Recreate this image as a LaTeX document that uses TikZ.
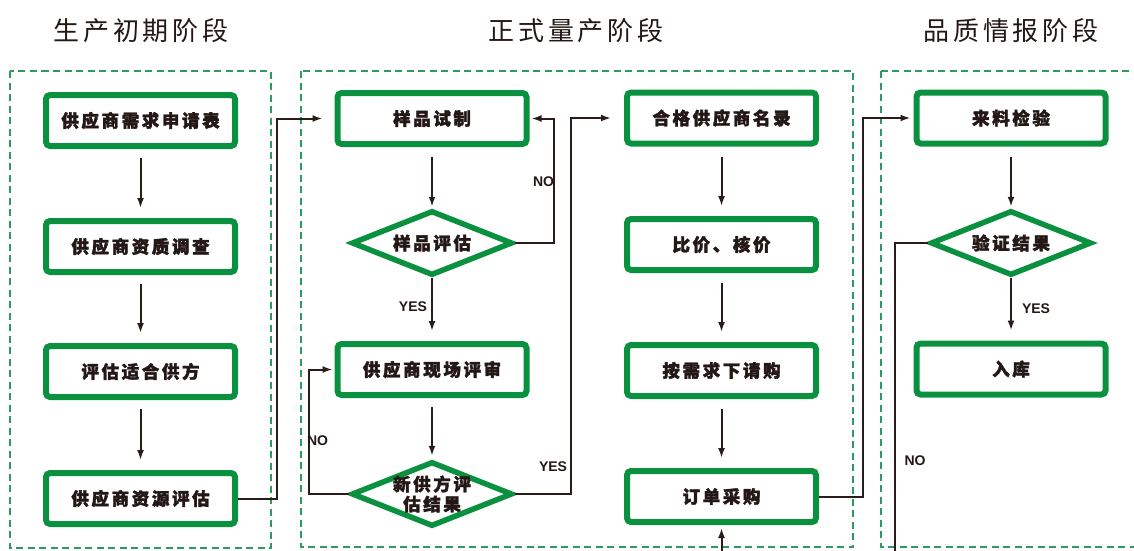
\documentclass[tikz,border=0pt]{standalone}
\usepackage{fontspec}
\newfontfamily\cjkwide{Noto Sans CJK SC}[LetterSpace=15, BoldFeatures={FakeBold=2}]
\newfontfamily\lat{Liberation Sans}
\usetikzlibrary{shapes.geometric,arrows.meta}
\definecolor{boxgreen}{HTML}{0A9140}
\definecolor{framegreen}{HTML}{2E9A62}
\definecolor{ink}{HTML}{231815}
\definecolor{wire}{HTML}{2A1C19}
\begin{document}
\begin{tikzpicture}[x=1pt,y=-1pt,
    stepbox/.style={draw=boxgreen, line width=6pt, rounded corners=4pt, fill=white,
      minimum width=189pt, minimum height=51pt, inner sep=0pt,
      font=\cjkwide\bfseries\fontsize{17.5}{20}\selectfont, text=ink},
    decide/.style={diamond, aspect=2.5, draw=boxgreen, line width=5.5pt, fill=white,
      minimum width=161pt, minimum height=65pt, inner sep=0pt},
    dtext/.style={align=center, inner sep=0pt,
      font=\cjkwide\bfseries\fontsize{17.5}{20}\selectfont, text=ink},
    stage/.style={font=\cjkwide\fontsize{26}{30}\selectfont, text=ink},
    frame/.style={draw=framegreen, line width=1.6pt, dash pattern=on 7pt off 4.5pt},
    conn/.style={draw=wire, line width=2pt, ->, >={Latex[length=10pt,width=7pt]}},
    tag/.style={font=\lat\bfseries\fontsize{14}{16}\selectfont, text=ink}]
  \clip (0,0) rectangle (1134,550);
  \def\colL{140.5}
  \def\colA{432}
  \def\colB{721.5}
  \def\colR{1011}

  % stages
  \node[stage] (s1) at (141,31) {生产初期阶段};
  \node[stage] (s2) at (576,31) {正式量产阶段};
  \node[stage] (s3) at (1011,31) {品质情报阶段};
  \draw[frame] (10,71) rectangle (271,548);
  \draw[frame] (301,71) rectangle (853,547);
  \draw[frame] (881,71) rectangle (1150,547);

  % first stage
  \foreach \lbl/\y [count=\i] in {供应商需求申请表/120.5, 供应商资质调查/246.5,
      评估适合供方/371.5, 供应商资源评估/498.5}
    \node[stepbox] (l\i) at (\colL,\y) {\lbl};
  \foreach \i in {1,2,3} {
    \pgfmathtruncatemacro\j{\i+1}
    \draw[conn, shorten <=9pt, shorten >=10pt] (l\i.south) -- (l\j.north);
  }

  % second stage, samples
  \node[stepbox] (m1) at (\colA,118.5) {样品试制};
  \node[decide, label={[dtext]center:样品评估}] (d1) at (\colA,243) {};
  \node[stepbox] (m2) at (\colA,369.5) {供应商现场评审};
  \node[decide, label={[dtext]center:{新供方评\\估结果}}] (d2) at (\colA,494) {};
  \draw[conn, shorten <=10pt, shorten >=1pt] (m1.south) -- (d1.north);
  \draw[conn, shorten >=10pt] (d1.south) -- (m2.north);
  \draw[conn, shorten <=9pt, shorten >=3pt] (m2.south) -- (d2.north);
  \draw[conn, shorten >=12pt] (l4.east) -- ++(39,0) |- (m1.west);
  \draw[conn, shorten >=2pt] (d1.east) -- ++(39,0) |- (m1.east);
  \draw[conn, shorten >=2pt] (d2.west) -- ++(-40,0) |- (m2.west);
  \node[tag] (no1) at (543.5,182) {NO};
  \node[tag] (yes1) at (413,307) {YES};
  \node[tag] (no2) at (317.5,441) {NO};
  \node[tag] (yes2) at (553,467) {YES};

  % second stage, purchase
  \foreach \lbl/\y [count=\i] in {合格供应商名录/118, 比价、核价/244.5,
      按需求下请购/370.5, 订单采购/496.5}
    \node[stepbox] (q\i) at (\colB,\y) {\lbl};
  \foreach \i in {1,2,3} {
    \pgfmathtruncatemacro\j{\i+1}
    \draw[conn, shorten <=10pt, shorten >=10pt] (q\i.south) -- (q\j.north);
  }
  \draw[conn, shorten >=13pt] (d2.east) -- ++(56,0) |- (q1.west);

  % third stage
  \node[stepbox] (r1) at (\colR,118) {来料检验};
  \node[decide, label={[dtext]center:验证结果}] (r2) at (\colR,243) {};
  \node[stepbox] (r3) at (\colR,369) {入库};
  \draw[conn, shorten <=10pt, shorten >=1pt] (r1.south) -- (r2.north);
  \draw[conn, shorten >=10pt] (r2.south) -- (r3.north);
  \draw[conn, shorten >=3pt] (q4.east) -- ++(44,0) |- (r1.west);
  \coordinate (back) at (895,570);
  \draw[conn, shorten >=3pt] (r2.west) -| (back) -| (q4.south);
  \node[tag] (yes3) at (1036,309) {YES};
  \node[tag] (no3) at (915,461) {NO};
\end{tikzpicture}
\end{document}
